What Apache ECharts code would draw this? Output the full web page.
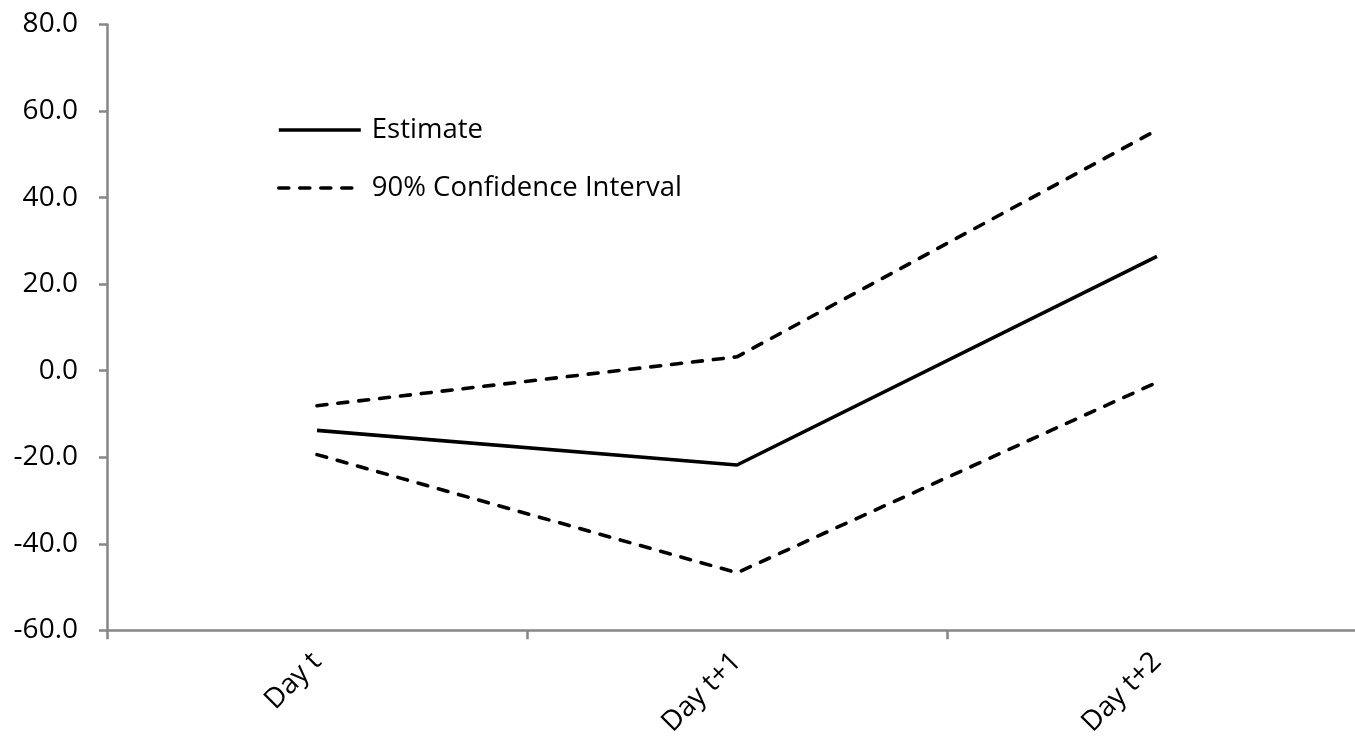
<!DOCTYPE html>
<html>
<head>
<meta charset="utf-8">
<script src="https://cdn.jsdelivr.net/npm/echarts@6/dist/echarts.min.js"></script>
<style>
html,body{margin:0;padding:0;background:#fff;}
#chart{width:1355px;height:737px;}
</style>
</head>
<body>
<div id="chart"></div>
<script>
const categories = ['Day t', 'Day t+1', 'Day t+2'];
const estimate = [-13.8, -21.8, 26.4];
const upperCI = [-8.1, 3.2, 55.6];
const lowerCI = [-19.4, -46.7, -2.7];
const yTicks = { min: -60, max: 80, interval: 20 };

const FONT = 'Open Sans';
const axisGray = '#868686';
const ciName = '90% Confidence Interval';

const chart = echarts.init(document.getElementById('chart'), null, { renderer: 'canvas' });
chart.setOption({
  animation: false,
  backgroundColor: '#ffffff',
  textStyle: { fontFamily: FONT },
  grid: { left: 107, top: 24.5, width: 1260, bottom: 106.7, containLabel: false, outerBoundsMode: 'none' },
  legend: {
    orient: 'vertical',
    left: 277,
    top: 115,
    padding: 0,
    itemGap: 28,
    itemWidth: 82,
    itemHeight: 14,
    data: ['Estimate', ciName],
    itemStyle: { opacity: 0 },
    lineStyle: { width: 3.6 },
    textStyle: { fontFamily: FONT, fontSize: 27.5, color: '#000', lineHeight: 30, padding: [0, 0, 0, 6] }
  },
  xAxis: {
    type: 'category',
    data: categories,
    boundaryGap: true,
    axisLine: { show: true, onZero: false, lineStyle: { color: axisGray, width: 2.5 } },
    axisTick: { show: true, length: 9, alignWithLabel: false, lineStyle: { color: axisGray, width: 2.5 } },
    axisLabel: { rotate: 45, margin: 27, fontFamily: FONT, fontSize: 28, color: '#000' },
    splitLine: { show: false }
  },
  yAxis: {
    type: 'value',
    min: yTicks.min,
    max: yTicks.max,
    interval: yTicks.interval,
    axisLine: { show: true, lineStyle: { color: axisGray, width: 2.5 } },
    axisTick: { show: true, length: 8, lineStyle: { color: axisGray, width: 2.5 } },
    axisLabel: { margin: 29, fontFamily: FONT, fontSize: 28, color: '#000', formatter: v => v.toFixed(1) },
    splitLine: { show: false }
  },
  series: [
    {
      name: 'Estimate', type: 'line', data: estimate, symbol: 'none',
      lineStyle: { color: '#000', width: 3.6, type: 'solid' },
      itemStyle: { color: '#000' }
    },
    {
      name: ciName, type: 'line', data: upperCI, symbol: 'none',
      lineStyle: { color: '#000', width: 3.6, type: [10, 11], cap: 'round' },
      itemStyle: { color: '#000' }
    },
    {
      name: ciName, type: 'line', data: lowerCI, symbol: 'none',
      lineStyle: { color: '#000', width: 3.6, type: [10, 11], cap: 'round' },
      itemStyle: { color: '#000' }
    }
  ]
});
</script>
</body>
</html>
